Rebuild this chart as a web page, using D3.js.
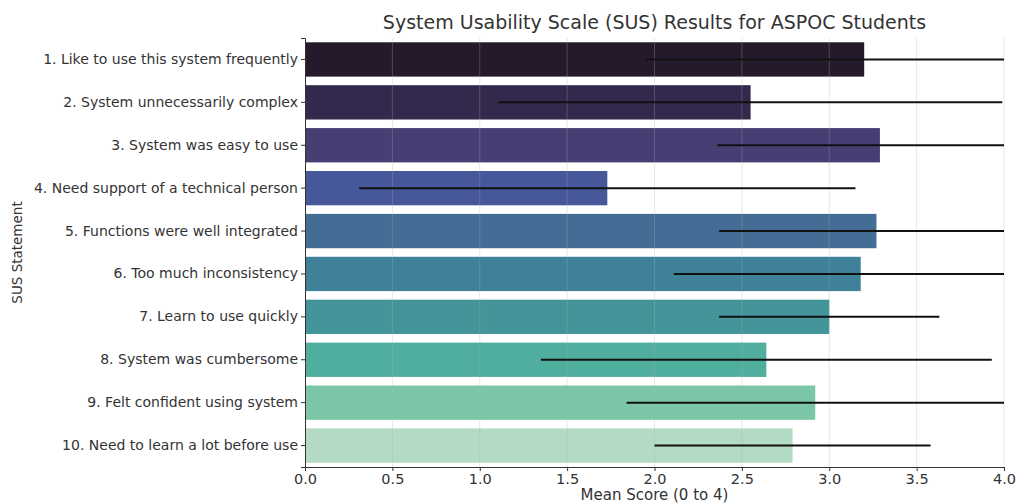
<!DOCTYPE html>
<html>
<head>
<meta charset="utf-8">
<script src="https://cdn.jsdelivr.net/npm/d3@7"></script>
<style>
  html, body { margin: 0; padding: 0; background: #fff; }
  svg { display: block; font-family: "DejaVu Sans", sans-serif; }
</style>
</head>
<body>
<svg id="chart" width="1017" height="504"></svg>
<script>
const categories = [
  "1. Like to use this system frequently",
  "2. System unnecessarily complex",
  "3. System was easy to use",
  "4. Need support of a technical person",
  "5. Functions were well integrated",
  "6. Too much inconsistency",
  "7. Learn to use quickly",
  "8. System was cumbersome",
  "9. Felt confident using system",
  "10. Need to learn a lot before use"
];
const means = [3.20, 2.55, 3.29, 1.73, 3.27, 3.18, 3.00, 2.64, 2.92, 2.79];
const sds   = [1.25, 1.44, 0.93, 1.42, 0.90, 1.07, 0.63, 1.29, 1.08, 0.79];
const colors = ["#241a2c", "#33294d", "#453f73", "#46579a", "#436d95",
                "#3f8199", "#43959a", "#4fae9d", "#7cc6a8", "#b3dbc3"];
const xTicks = [0, 0.5, 1.0, 1.5, 2.0, 2.5, 3.0, 3.5, 4.0];

const title = "System Usability Scale (SUS) Results for ASPOC Students";
const xLabel = "Mean Score (0 to 4)";
const yLabel = "SUS Statement";

const FONT = "DejaVu Sans, sans-serif";
const svg = d3.select("#chart");
const m = { left: 305, right: 13, top: 38, bottom: 37 };
const W = 1017, H = 504;

const x = d3.scaleLinear().domain([0, 4]).range([m.left, W - m.right]);
const y = d3.scaleBand().domain(categories).range([m.top, H - m.bottom]).paddingInner(0.2).paddingOuter(0.1);

svg.append("defs").append("clipPath").attr("id", "clip")
  .append("rect").attr("x", m.left).attr("y", m.top)
  .attr("width", W - m.right - m.left).attr("height", H - m.bottom - m.top);

// bars
svg.append("g").selectAll("rect").data(categories).join("rect")
  .attr("x", x(0))
  .attr("y", d => y(d))
  .attr("width", (d, i) => x(means[i]) - x(0))
  .attr("height", y.bandwidth())
  .attr("fill", (d, i) => colors[i]);

// grid on top (as seen in reference)
svg.append("g").selectAll("line").data(xTicks.slice(1)).join("line")
  .attr("x1", d => x(d)).attr("x2", d => x(d))
  .attr("y1", m.top).attr("y2", H - m.bottom)
  .attr("stroke", "#b0b0b0").attr("stroke-opacity", 0.3).attr("stroke-width", 1);

// error bars
svg.append("g").attr("clip-path", "url(#clip)").selectAll("line").data(categories).join("line")
  .attr("x1", (d, i) => x(means[i] - sds[i]))
  .attr("x2", (d, i) => x(means[i] + sds[i]))
  .attr("y1", d => y(d) + y.bandwidth() / 2)
  .attr("y2", d => y(d) + y.bandwidth() / 2)
  .attr("stroke", "#111").attr("stroke-width", 2);

// axes
const xAxis = d3.axisBottom(x).tickValues(xTicks).tickFormat(d3.format(".1f")).tickSizeOuter(0).tickSize(4).tickPadding(3);
const gx = svg.append("g").attr("transform", `translate(0,${H - m.bottom})`).call(xAxis)
  .attr("font-family", FONT).attr("font-size", 14.5);
gx.selectAll("text").attr("fill", "#333");
gx.selectAll("line").attr("stroke", "#333");
gx.select(".domain").attr("stroke", "#333");

const yAxis = d3.axisLeft(y).tickSizeOuter(0).tickSize(4).tickPadding(3);
const gy = svg.append("g").attr("transform", `translate(${m.left},0)`).call(yAxis)
  .attr("font-family", FONT).attr("font-size", 14);
gy.selectAll("text").attr("fill", "#333");
gy.selectAll("line").attr("stroke", "#333");
gy.select(".domain").attr("stroke", "#333");

// titles
svg.append("text").attr("x", (m.left + W - m.right) / 2).attr("y", 29)
  .attr("text-anchor", "middle").attr("font-size", 19).attr("fill", "#333").text(title);
svg.append("text").attr("x", (m.left + W - m.right) / 2).attr("y", 500)
  .attr("text-anchor", "middle").attr("font-size", 15).attr("fill", "#333").text(xLabel);
svg.append("text").attr("transform", `translate(22,${(m.top + H - m.bottom) / 2}) rotate(-90)`)
  .attr("text-anchor", "middle").attr("font-size", 13.5).attr("fill", "#333").text(yLabel);
</script>
</body>
</html>
